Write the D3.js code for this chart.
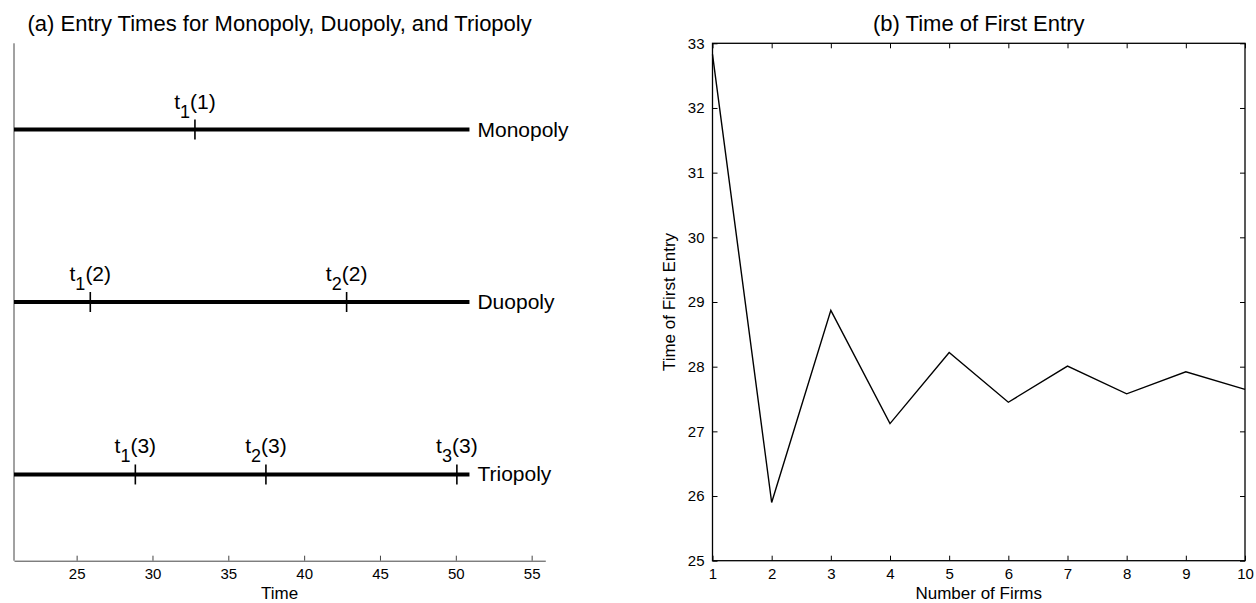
<!DOCTYPE html>
<html><head><meta charset="utf-8">
<script src="https://cdn.jsdelivr.net/npm/d3@7"></script>
<style>body{margin:0;background:#fff;} text{font-family:"Liberation Sans",Arial,sans-serif;fill:#000;}</style>
</head><body>
<svg id="c" width="1256" height="603"></svg>
<script>
// Panel (a) data
const markets = ["Monopoly", "Duopoly", "Triopoly"];
const marketLevel = [3, 2, 1];
const marketEnd = [50.9, 50.9, 50.9];
const entryTimes = [[32.8], [25.9, 42.8], [28.87, 37.48, 50.07]];
const timeTicks = [25, 30, 35, 40, 45, 50, 55];
// Panel (b) data
const firms = [1, 2, 3, 4, 5, 6, 7, 8, 9, 10];
const firstEntry = [32.83, 25.9, 28.87, 27.12, 28.22, 27.45, 28.01, 27.58, 27.92, 27.65];
const firstEntryTicks = [25, 26, 27, 28, 29, 30, 31, 32, 33];

(function () {
const svg = d3.select("#c");
const yTop = 43.3, yBot = 560.7;
const fontF = "Liberation Sans, Arial, sans-serif";

// ---------- Panel (a)
const xa = d3.scaleLinear().domain([20.87, 55.9]).range([14, 545.3]);
const ya = d3.scaleLinear().domain([0.5, 3.5]).range([yBot, yTop]);
const ga = svg.append("g");
ga.append("line").attr("x1", xa.range()[0]).attr("x2", xa.range()[0]).attr("y1", yTop).attr("y2", yBot)
  .attr("stroke", "#444").attr("stroke-width", 1);
const axA = ga.append("g").attr("transform", `translate(0,${yBot})`)
  .call(d3.axisBottom(xa).tickValues(timeTicks).tickSizeInner(-5).tickSizeOuter(0).tickPadding(8));
axA.select(".domain").attr("stroke", "#444");
axA.selectAll(".tick line").attr("stroke", "#444");
axA.selectAll(".tick text").attr("font-size", 15).attr("font-family", fontF);
ga.append("text").attr("x", (xa.range()[0] + xa.range()[1]) / 2).attr("y", 599).attr("text-anchor", "middle")
  .attr("font-size", 17).text("Time");
ga.append("text").attr("x", (xa.range()[0] + xa.range()[1]) / 2).attr("y", 31).attr("text-anchor", "middle")
  .attr("font-size", 22).text("(a) Entry Times for Monopoly, Duopoly, and Triopoly");

markets.forEach((m, i) => {
  const y = ya(marketLevel[i]);
  ga.append("line").attr("x1", xa.range()[0]).attr("x2", xa(marketEnd[i])).attr("y1", y).attr("y2", y)
    .attr("stroke", "#000").attr("stroke-width", 4);
  ga.append("text").attr("x", xa(marketEnd[i]) + 8).attr("y", y + 7).attr("font-size", 21).text(m);
  entryTimes[i].forEach((t, k) => {
    const x = xa(t);
    ga.append("line").attr("x1", x).attr("x2", x).attr("y1", y - 10).attr("y2", y + 10)
      .attr("stroke", "#000").attr("stroke-width", 1.6);
    const tx = ga.append("text").attr("x", x).attr("y", y - 21).attr("text-anchor", "middle").attr("font-size", 21);
    tx.append("tspan").text("t");
    tx.append("tspan").attr("dy", 9).attr("font-size", 18).text(k + 1);
    tx.append("tspan").attr("dy", -9).text("(" + (i + 1) + ")");
  });
});

// ---------- Panel (b)
const xb = d3.scaleLinear().domain([1, 10]).range([712.5, 1245]);
const yb = d3.scaleLinear().domain([25, 33]).range([yBot, yTop]);
const gb = svg.append("g");
gb.append("rect").attr("x", xb.range()[0]).attr("y", yTop).attr("width", xb.range()[1] - xb.range()[0])
  .attr("height", yBot - yTop).attr("fill", "none").attr("stroke", "#000").attr("stroke-width", 1.3);
gb.append("g").attr("transform", `translate(0,${yBot})`)
  .call(d3.axisBottom(xb).tickValues(firms).tickSizeInner(-5).tickSizeOuter(0).tickPadding(8));
gb.append("g").attr("transform", `translate(0,${yTop})`)
  .call(d3.axisTop(xb).tickValues(firms).tickSizeInner(-5).tickSizeOuter(0).tickFormat(""));
gb.append("g").attr("transform", `translate(${xb.range()[0]},0)`)
  .call(d3.axisLeft(yb).tickValues(firstEntryTicks).tickSizeInner(-5).tickSizeOuter(0).tickPadding(8));
gb.append("g").attr("transform", `translate(${xb.range()[1]},0)`)
  .call(d3.axisRight(yb).tickValues(firstEntryTicks).tickSizeInner(-5).tickSizeOuter(0).tickFormat(""));
gb.selectAll(".domain").remove();
gb.selectAll(".tick line").attr("stroke", "#000");
gb.selectAll(".tick text").attr("font-size", 15).attr("font-family", fontF);

gb.append("path").datum(firstEntry.map((v, i) => [firms[i], v]))
  .attr("d", d3.line().x(d => xb(d[0])).y(d => yb(d[1])))
  .attr("fill", "none").attr("stroke", "#000").attr("stroke-width", 1.4);

gb.append("text").attr("x", (xb.range()[0] + xb.range()[1]) / 2).attr("y", 599).attr("text-anchor", "middle")
  .attr("font-size", 17).text("Number of Firms");
gb.append("text").attr("x", (xb.range()[0] + xb.range()[1]) / 2).attr("y", 31).attr("text-anchor", "middle")
  .attr("font-size", 22).text("(b) Time of First Entry");
gb.append("text").attr("transform", `translate(675,${(yTop + yBot) / 2}) rotate(-90)`).attr("text-anchor", "middle")
  .attr("font-size", 17).text("Time of First Entry");
})();
</script>
</body></html>
